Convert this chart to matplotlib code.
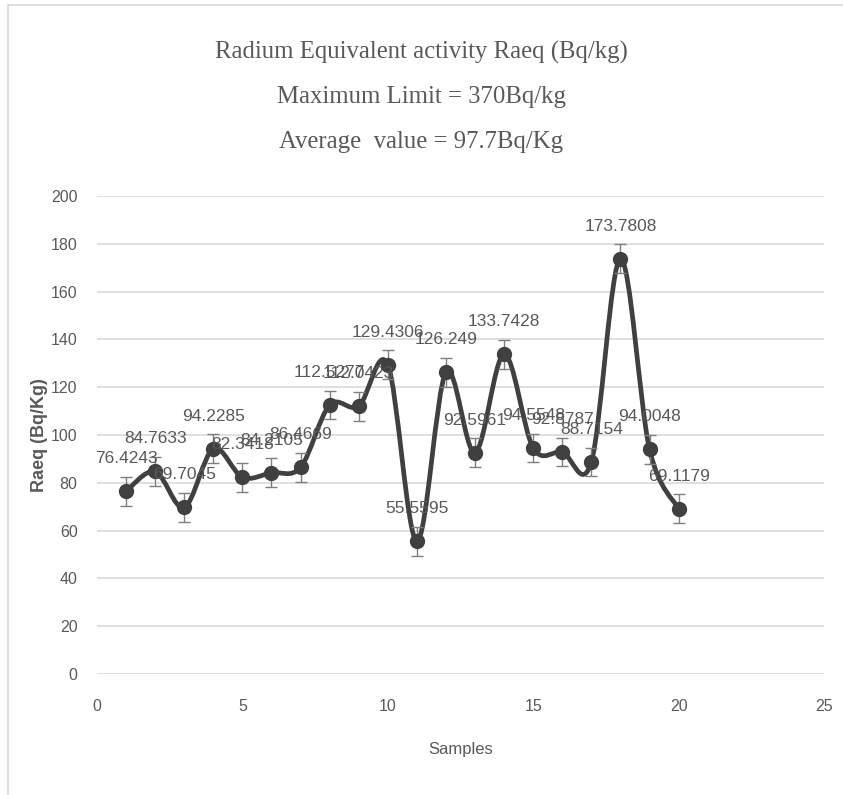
import numpy as np
import matplotlib.pyplot as plt
from matplotlib.path import Path
from matplotlib.patches import PathPatch, Rectangle

samples = list(range(1, 21))
raeq = [76.4243, 84.7633, 69.7045, 94.2285, 82.3418, 84.2105, 86.4669, 112.5277,
        112.0423, 129.4306, 55.5595, 126.249, 92.5961, 133.7428, 94.5548, 92.8787,
        88.7154, 173.7808, 94.0048, 69.1179]
errors = [6.0] * 20
labels = ['76.4243', '84.7633', '69.7045', '94.2285', '82.3418', '84.2105', '86.4669',
          '112.5277', '112.0423', '129.4306', '55.5595', '126.249', '92.5961', '133.7428',
          '94.5548', '92.8787', '88.7154', '173.7808', '94.0048', '69.1179']

line_col = '#404040'
text_col = '#595959'
sans = ['Liberation Sans', 'DejaVu Sans']

fig = plt.figure(figsize=(8.43, 7.95), dpi=100)
ax = fig.add_axes([97 / 843, 1 - 674 / 795, (824 - 97) / 843, (674 - 196) / 795])

# smoothed line through the points (cubic bezier segments, like Excel's smoothed line)
x = np.array(samples, dtype=float)
y = np.array(raeq)
verts = [(x[0], y[0])]
codes = [Path.MOVETO]
t = 1 / 6
for i in range(len(x) - 1):
    p0 = (x[i - 1], y[i - 1]) if i > 0 else (x[i], y[i])
    p1 = (x[i], y[i])
    p2 = (x[i + 1], y[i + 1])
    p3 = (x[i + 2], y[i + 2]) if i + 2 < len(x) else p2
    c1 = (p1[0] + (p2[0] - p0[0]) * t, p1[1] + (p2[1] - p0[1]) * t)
    c2 = (p2[0] - (p3[0] - p1[0]) * t, p2[1] - (p3[1] - p1[1]) * t)
    verts += [c1, c2, p2]
    codes += [Path.CURVE4] * 3
ax.add_patch(PathPatch(Path(verts, codes), fill=False, edgecolor=line_col, lw=3.4, zorder=3))

ax.errorbar(samples, raeq, yerr=errors, fmt='o', color=line_col, ms=10, ecolor='#7f7f7f',
            elinewidth=1, capsize=4, zorder=4)

for xi, yi, lab in zip(samples, raeq, labels):
    ax.annotate(lab, (xi, yi), xytext=(0, 18), textcoords='offset points', ha='center',
                va='bottom', color=text_col, fontsize=12.5, family=sans, zorder=5)

ax.set_xlim(0, 25)
ax.set_ylim(0, 200)
ax.set_xticks(range(0, 26, 5))
ax.set_yticks(range(0, 201, 20))
ax.grid(axis='y', color='#d9d9d9', lw=1.2)
ax.set_axisbelow(True)
for s in ax.spines.values():
    s.set_visible(False)
ax.tick_params(length=0, labelsize=11.5, labelcolor=text_col)
ax.tick_params(axis='x', pad=18)
ax.tick_params(axis='y', pad=14)
for lb in ax.get_xticklabels() + ax.get_yticklabels():
    lb.set_family(sans)

ax.set_xlabel('Samples', fontsize=12, color=text_col, family=sans, labelpad=20)
ax.set_ylabel('Raeq (Bq/Kg)', fontsize=13, color=text_col, fontweight='bold', family=sans,
              labelpad=2)

title_lines = ['Radium Equivalent activity Raeq (Bq/kg)', 'Maximum Limit = 370Bq/kg',
               'Average  value = 97.7Bq/Kg']
for k, line in enumerate(title_lines):
    fig.text(0.5, 1 - (52 + 45 * k) / 795, line, ha='center', va='center', fontsize=17.8,
             color=text_col, family='Liberation Serif')

fig.patches.append(Rectangle((8 / 843, -0.1), 1.2, 1.1 - 5 / 795, transform=fig.transFigure,
                             fill=False, edgecolor='#d9d9d9', lw=1.2))

fig.savefig('out.png', dpi=100)
